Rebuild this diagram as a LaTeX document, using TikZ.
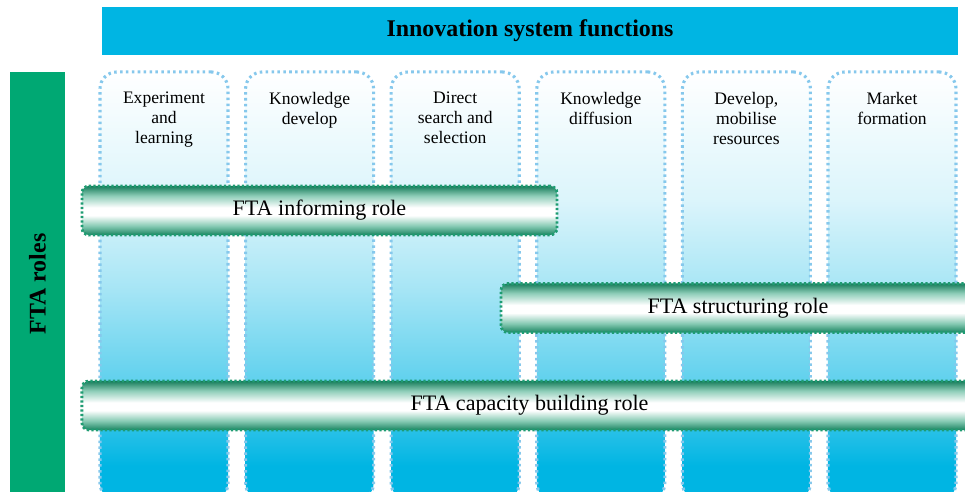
\documentclass[tikz,border=0pt]{standalone}
\usepackage{fontspec}
\setmainfont{Liberation Serif}
\usepackage{xcolor}
\usetikzlibrary{positioning, calc}

\definecolor{isfblue}{HTML}{00B5E3}
\definecolor{ftagreen}{HTML}{00A873}
\definecolor{coldots}{HTML}{86C8EC}
\definecolor{bardots}{HTML}{1E9C72}

% columns: white at the top, cyan at the bottom (path maps to 25bp..75bp)
\pgfdeclareverticalshading{colfade}{100bp}{%
  color(0bp)=(isfblue); color(29bp)=(isfblue);
  color(39bp)=(isfblue!62!white); color(50bp)=(isfblue!34!white);
  color(60bp)=(isfblue!14!white); color(75bp)=(white); color(100bp)=(white)}
% role bars: green rim, white in the middle
\pgfdeclareverticalshading{barfade}{100bp}{%
  color(0bp)=(bardots!85!black); color(25bp)=(bardots!85!black);
  color(34bp)=(bardots!55!white); color(45bp)=(white); color(53bp)=(white);
  color(65bp)=(bardots!50!white); color(75bp)=(bardots!80!black); color(100bp)=(bardots!80!black)}

\tikzset{
  fcolumn/.style={rectangle, rounded corners=12pt, minimum width=3.2cm, minimum height=10.7cm,
    shading=colfade, draw=coldots, line width=2.2pt, dash pattern=on 1.8pt off 2.4pt},
  flabel/.style={anchor=north, align=center, font=\fontsize{12.5}{14.2}\selectfont},
  rolebar/.style={rectangle, rounded corners=5pt, minimum height=1.225cm,
    shading=barfade, draw=bardots, line width=2pt, dash pattern=on 1.6pt off 1.6pt,
    font=\fontsize{15.7}{18}\selectfont},
}

\begin{document}
\begin{tikzpicture}[x=0.025cm, y=-0.025cm]
\useasboundingbox (0,0) rectangle (965,492);

% header and side band
\node[fill=isfblue, minimum width=21.4cm, minimum height=1.2cm,
  font=\bfseries\fontsize{17}{19}\selectfont] (isf) at (530,31) {Innovation system functions};
\node[fill=ftagreen, minimum width=1.375cm, minimum height=10.6cm] (roles) at (37.5,284) {};
\node[rotate=90, font=\bfseries\fontsize{17}{19}\selectfont] (rolestxt) at (37.5,284) {FTA roles};

% the six functions
\foreach \i/\txt in {1/{Experiment\\and\\learning}, 2/{Knowledge\\develop},
    3/{Direct\\search and\\selection}, 4/{Knowledge\\diffusion},
    5/{Develop,\\mobilise\\resources}, 6/{Market\\formation}} {
  \node[fcolumn] (col\i) at ({164+145.6*(\i-1)},286) {};
  \node[flabel] (lab\i) at ({164+145.6*(\i-1)},87) {\txt};
}

% FTA roles
\node[rolebar, minimum width=11.875cm] (inform) at (319.5,210.5) {FTA informing role};
\node[rolebar, minimum width=11.85cm] (struct) at (738,308) {FTA structuring role};
\node[rolebar, minimum width=22.375cm] (capac) at (529.5,405.5) {FTA capacity building role};
\end{tikzpicture}
\end{document}
